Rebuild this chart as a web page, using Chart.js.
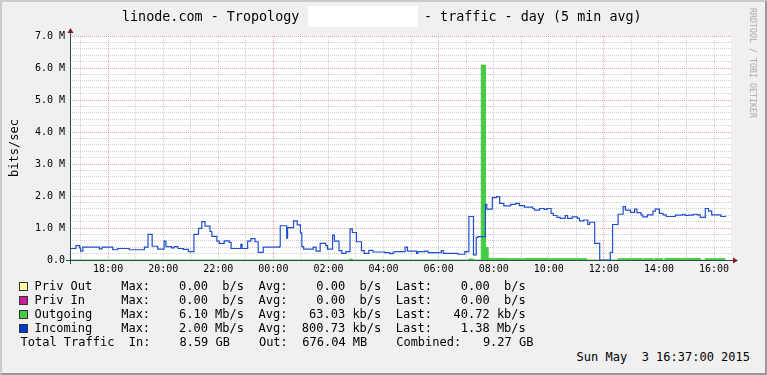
<!DOCTYPE html>
<html>
<head>
<meta charset="utf-8">
<script src="https://cdn.jsdelivr.net/npm/chart.js@4.4.0/dist/chart.umd.min.js"></script>
<style>
  html, body { margin: 0; padding: 0; }
  body {
    width: 767px; height: 375px; overflow: hidden; position: relative;
    background: #F0F0F0; font-family: "DejaVu Sans Mono", monospace; color: #000;
  }
  #frame {
    position: absolute; left: 0; top: 0; width: 767px; height: 375px; box-sizing: border-box;
    border-style: solid; border-width: 2px; border-color: #CBCBCB #999999 #999999 #CBCBCB;
  }
  #chartBox { position: absolute; left: 0; top: 0; width: 767px; height: 290px; }
  .title { position: absolute; top: 9px; font-size: 13.4px; line-height: 16px; white-space: pre; }
  #blank { position: absolute; left: 308px; top: 6px; width: 110px; height: 21px; background: #fff; }
  #mark {
    position: absolute; left: 757px; top: 8px; font-size: 8.3px; line-height: 8px; color: #ABABAB;
    white-space: pre; transform: rotate(90deg); transform-origin: left top;
  }
  .row { position: absolute; font-size: 12px; line-height: 14px; white-space: pre; }
  .box { position: absolute; left: 19px; width: 9px; height: 9px; box-sizing: border-box; border: 1px solid #333; }
</style>
</head>
<body>
<div id="frame"></div>
<div id="chartBox"><canvas id="chart" width="767" height="290"></canvas></div>

<div class="title" style="left:122px">linode.com - Tropology</div>
<div id="blank"></div>
<div class="title" style="left:424px">- traffic - day (5 min avg)</div>
<div id="mark">RRDTOOL / TOBI OETIKER</div>

<div class="box" style="top:282px;background:#FFFFA0"></div>
<div class="row" style="left:34.5px;top:279px">Priv Out    Max:    0.00  b/s  Avg:    0.00  b/s  Last:    0.00  b/s</div>
<div class="box" style="top:296px;background:#C81E96"></div>
<div class="row" style="left:34.5px;top:293px">Priv In     Max:    0.00  b/s  Avg:    0.00  b/s  Last:    0.00  b/s</div>
<div class="box" style="top:310px;background:#44CC44"></div>
<div class="row" style="left:34.5px;top:307px">Outgoing    Max:    6.10 Mb/s  Avg:   63.03 kb/s  Last:   40.72 kb/s</div>
<div class="box" style="top:324px;background:#0039CF"></div>
<div class="row" style="left:34.5px;top:321px">Incoming    Max:    2.00 Mb/s  Avg:  800.73 kb/s  Last:    1.38 Mb/s</div>
<div class="row" style="left:20.5px;top:335px">Total Traffic  In:    8.59 GB    Out:  676.04 MB    Combined:   9.27 GB</div>
<div class="row" style="right:17px;top:350px">Sun May  3 16:37:00 2015</div>

<script>
// window: Sat 16:37 -> Sun 16:37, values in Mbit/s
const startMin = 16 * 60 + 37;
const endMin = startMin + 24 * 60;

// incoming (blue line), each point starts a step
const incomingTimes = [
  '16:37', '16:50', '16:58', '17:00', '17:05', '17:41', '17:47', '18:10', '18:21', '18:46',
  '19:19', '19:27', '19:36', '19:48', '20:02', '20:06', '20:18', '20:24', '20:32', '20:44',
  '20:55', '21:07', '21:17', '21:24', '21:31', '21:42', '21:46', '21:57', '22:02', '22:13',
  '22:24', '22:28', '22:49', '22:52', '23:04', '23:11', '23:20', '23:27', '23:38', '00:13',
  '00:15', '00:29', '00:31', '00:44', '00:52', '00:59', '01:02', '01:06', '01:27', '01:33',
  '01:42', '01:54', '01:58', '02:09', '02:13', '02:23', '02:29', '02:38', '02:47', '02:52',
  '03:01', '03:12', '03:18', '03:28', '03:37', '04:03', '04:14', '04:21', '04:25', '04:47',
  '04:52', '05:12', '05:15', '05:30', '05:37', '06:06', '06:10', '06:42', '06:57', '07:06',
  '07:16', '07:22', '07:26', '07:42', '07:45', '07:57', '08:06', '08:13', '08:22', '08:37',
  '08:48', '08:56', '09:07', '09:25', '09:29', '09:40', '09:50', '09:56', '10:05', '10:10',
  '10:18', '10:25', '10:36', '10:41', '10:51', '11:02', '11:07', '11:16', '11:25', '11:29',
  '11:40', '11:51', '12:14', '12:19', '12:31', '12:42', '12:47', '12:58', '13:07', '13:12',
  '13:21', '13:25', '13:35', '13:47', '13:52', '14:01', '14:09', '14:16', '14:36', '14:52',
  '14:57', '15:04', '15:15', '15:24', '15:30', '15:41', '15:48', '15:55', '16:15', '16:25'
];
const incomingValues = [
  0.36, 0.45, 0.38, 0.28, 0.40, 0.35, 0.40, 0.32, 0.36, 0.32,
  0.40, 0.80, 0.43, 0.34, 0.59, 0.42, 0.38, 0.42, 0.36, 0.33,
  0.26, 0.80, 0.99, 1.20, 1.06, 0.89, 0.74, 0.59, 0.52, 0.60,
  0.55, 0.36, 0.49, 0.36, 0.59, 0.67, 0.57, 0.24, 0.40, 0.42,
  1.07, 0.68, 1.01, 1.22, 1.10, 0.85, 0.42, 0.34, 0.40, 0.28,
  0.52, 0.45, 0.34, 0.78, 0.59, 0.29, 0.21, 0.26, 0.97, 0.86,
  0.57, 0.29, 0.21, 0.30, 0.25, 0.23, 0.20, 0.25, 0.26, 0.40,
  0.28, 0.21, 0.26, 0.28, 0.23, 0.29, 0.21, 0.18, 0.26, 1.36,
  0.16, 0.71, 0.73, 1.74, 1.59, 1.95, 1.98, 1.77, 1.69, 1.74,
  1.77, 1.70, 1.65, 1.61, 1.56, 1.61, 1.58, 1.61, 1.46, 1.39,
  1.33, 1.30, 1.39, 1.30, 1.35, 1.30, 1.22, 1.25, 1.11, 1.18,
  0.52, 0.00, 0.24, 1.11, 1.43, 1.67, 1.56, 1.49, 1.59, 1.48,
  1.41, 1.35, 1.41, 1.53, 1.59, 1.46, 1.41, 1.36, 1.40, 1.43,
  1.39, 1.40, 1.43, 1.41, 1.33, 1.61, 1.53, 1.41, 1.36, 1.38
];

// outgoing (green area)
const outgoingTimes = [
  '16:37', '02:47', '02:52', '07:06', '07:16', '07:33', '07:42', '07:48', '08:30', '09:10',
  '10:00', '11:23', '12:31', '13:24', '13:27', '13:47', '13:50', '14:08', '14:13', '15:30',
  '15:41', '16:25'
];
const outgoingValues = [
  0.00, 0.03, 0.00, 0.03, 0.00, 6.09, 0.39, 0.05, 0.04, 0.05,
  0.04, 0.00, 0.04, 0.00, 0.04, 0.00, 0.04, 0.00, 0.05, 0.00,
  0.04, 0.04
];

const yMax = 7;
const monoFont = 'DejaVu Sans Mono';

function toMin(s) {
  const [h, m] = s.split(':').map(Number);
  let t = h * 60 + m;
  if (t < startMin) t += 1440;
  return t;
}

function isInt(v) {
  return Math.abs(v - Math.round(v)) < 1e-6;
}

function hourLabel(v) {
  const h = Math.floor(v / 60) % 24;
  return (h < 10 ? '0' : '') + h + ':00';
}

const minorGrid = 'rgba(140,140,140,0.4)';
const majorGrid = 'rgba(230,100,100,0.6)';

// white canvas, axis lines and the little red arrows
const rrdFrame = {
  id: 'rrdFrame',
  beforeDraw(chart) {
    const { ctx, chartArea: a } = chart;
    ctx.save();
    ctx.fillStyle = '#FFFFFF';
    ctx.fillRect(a.left, a.top, a.right - a.left, a.bottom - a.top);
    ctx.restore();
  },
  afterDatasetsDraw(chart) {
    const { ctx, chartArea: a } = chart;
    const x0 = Math.round(a.left) + 0.5;
    const y0 = Math.round(a.bottom) + 0.5;
    ctx.save();
    ctx.strokeStyle = '#2C4D43';
    ctx.lineWidth = 1;
    ctx.beginPath();
    ctx.moveTo(a.left - 4, y0);
    ctx.lineTo(a.right + 3, y0);
    ctx.moveTo(x0, a.bottom + 4);
    ctx.lineTo(x0, a.top - 4);
    ctx.stroke();
    ctx.fillStyle = '#7F1F1F';
    ctx.beginPath();
    ctx.moveTo(x0, a.top - 8);
    ctx.lineTo(x0 - 3, a.top - 3);
    ctx.lineTo(x0 + 3, a.top - 3);
    ctx.closePath();
    ctx.fill();
    ctx.beginPath();
    ctx.moveTo(a.right + 7, y0);
    ctx.lineTo(a.right + 2, y0 - 3);
    ctx.lineTo(a.right + 2, y0 + 3);
    ctx.closePath();
    ctx.fill();
    ctx.restore();
  }
};

const ctx = document.getElementById('chart').getContext('2d');

new Chart(ctx, {
  type: 'line',
  data: {
    datasets: [
      {
        label: 'Incoming',
        data: incomingTimes.map((t, i) => ({ x: toMin(t), y: incomingValues[i] })),
        borderColor: '#1F4FD0',
        borderWidth: 1.2,
        pointRadius: 0,
        stepped: true,
        fill: false,
        order: 1
      },
      {
        label: 'Outgoing',
        data: outgoingTimes.map((t, i) => ({ x: toMin(t), y: outgoingValues[i] })),
        borderColor: '#44CC44',
        backgroundColor: '#44CC44',
        borderWidth: 1,
        pointRadius: 0,
        stepped: true,
        fill: 'origin',
        order: 2
      }
    ]
  },
  options: {
    responsive: false,
    animation: false,
    devicePixelRatio: 1,
    layout: { padding: { top: 36, right: 36, bottom: 10, left: 0 } },
    plugins: {
      legend: { display: false },
      tooltip: { enabled: false }
    },
    scales: {
      x: {
        type: 'linear',
        min: startMin,
        max: endMin,
        afterBuildTicks: scale => {
          const ticks = [];
          for (let m = 17 * 60; m < endMin; m += 60) ticks.push({ value: m });
          scale.ticks = ticks;
        },
        afterFit: scale => { scale.height = 20; },
        ticks: {
          autoSkip: false,
          maxRotation: 0,
          padding: 3,
          color: '#000',
          font: { family: monoFont, size: 10 },
          callback: v => ((v / 60) % 2 === 0 ? hourLabel(v) : '')
        },
        grid: {
          drawTicks: false,
          lineWidth: 1,
          color: c => (c.tick && c.tick.value % 360 === 0 ? majorGrid : minorGrid)
        },
        border: { display: false, dash: [1, 1] }
      },
      y: {
        type: 'linear',
        min: 0,
        max: yMax,
        afterBuildTicks: scale => {
          const ticks = [];
          for (let i = 0; i <= yMax * 5; i++) ticks.push({ value: i / 5 });
          scale.ticks = ticks;
        },
        afterFit: scale => { scale.width = 70; },
        ticks: {
          autoSkip: false,
          padding: 5,
          color: '#000',
          font: { family: monoFont, size: 10 },
          callback: v => (isInt(v) ? (v === 0 ? '0.0' : v.toFixed(1) + ' M') : '')
        },
        grid: {
          drawTicks: false,
          lineWidth: 1,
          color: c => (c.tick && isInt(c.tick.value) ? majorGrid : minorGrid)
        },
        border: { display: false, dash: [1, 1] },
        title: {
          display: true,
          text: 'bits/sec',
          color: '#000',
          font: { family: monoFont, size: 12 },
          padding: { top: 8, bottom: 0 }
        }
      }
    }
  },
  plugins: [rrdFrame]
});
</script>
</body>
</html>
